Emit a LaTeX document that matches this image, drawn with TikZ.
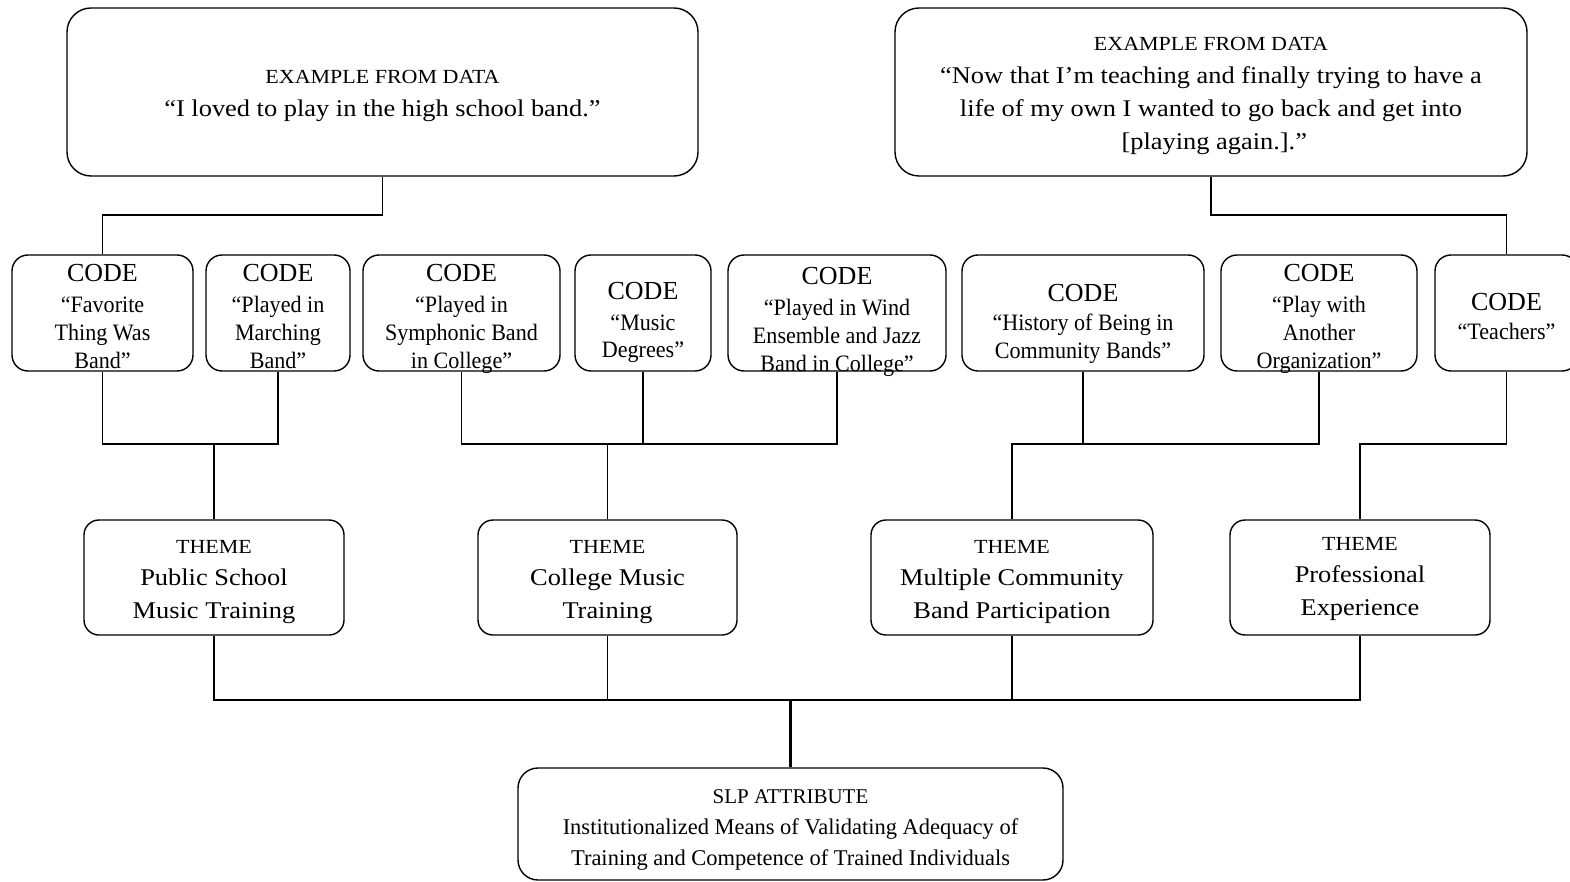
\documentclass[tikz,border=0pt]{standalone}
\usepackage{fontspec}
\setmainfont{Liberation Serif}[FakeStretch=1.1]
\newfontfamily\plainserif{Liberation Serif}
\newfontfamily\tightserif{Liberation Serif}[FakeStretch=0.94]
% invisible struts that pad the top and bottom lines of a box
\newcommand\padtop[1]{\rule{0pt}{#1pt}}
\newcommand\padbot{\rule[-7pt]{0pt}{0pt}}
\newcommand\codehead{{\plainserif\fontsize{26}{28}\selectfont CODE}}
\begin{document}
\begin{tikzpicture}[x=1pt,y=-1pt,line width=1.4pt,
  exbox/.style={draw,rounded corners=24pt,align=center,inner sep=0pt,
    minimum height=168pt,font=\fontsize{24}{33}\selectfont},
  codebox/.style={draw,rounded corners=16pt,align=center,inner xsep=0pt,
    inner ysep=-30pt,minimum height=116pt,
    font=\tightserif\fontsize{23.5}{28}\selectfont},
  themebox/.style={draw,rounded corners=15pt,align=center,inner sep=0pt,
    minimum height=115pt,font=\fontsize{24}{32.5}\selectfont},
  slpbox/.style={draw,rounded corners=20pt,align=center,inner sep=0pt,
    minimum height=112pt,font=\plainserif\fontsize{22.5}{31}\selectfont},
  bus/.style={line width=1.4pt},
  trunk/.style={line width=2.6pt}]
\clip (0,0) rectangle (1570,882);

% data examples
\node[exbox,minimum width=631pt] (ex1) at (382.5,92)
  {\padtop{21}{\fontsize{20}{33}\selectfont EXAMPLE FROM DATA}\\
   “I loved to play in the high school band.”};
\node[exbox,minimum width=632pt] (ex2) at (1211,92)
  {\padtop{21}{\fontsize{20}{33}\selectfont EXAMPLE FROM DATA}\\
   “Now that I’m teaching and finally trying to have a\\
   life of my own I wanted to go back and get into\\{}
   [playing again.].”};

% codes
\node[codebox,minimum width=181pt] (c1) at (102.5,313)
  {\padtop{31.5}\codehead\\[3pt]“Favorite\\Thing Was\\Band”\padbot};
\node[codebox,minimum width=144pt] (c2) at (278,313)
  {\padtop{31.5}\codehead\\[3pt]“Played in\\Marching\\Band”\padbot};
\node[codebox,minimum width=197pt] (c3) at (461.5,313)
  {\padtop{31.5}\codehead\\[3pt]“Played in\\Symphonic Band\\in College”\padbot};
\node[codebox,minimum width=136pt] (c4) at (643,313)
  {\padtop{38}\codehead\\[3pt]“Music\\[-1pt]Degrees”\padbot};
\node[codebox,minimum width=218pt] (c5) at (837,313)
  {\padtop{37}\codehead\\[3pt]“Played in Wind\\Ensemble and Jazz\\Band in College”\padbot};
\node[codebox,minimum width=242pt] (c6) at (1083,313)
  {\padtop{40}\codehead\\[1pt]“History of Being in\\Community Bands”\padbot};
\node[codebox,minimum width=196pt] (c7) at (1319,313)
  {\padtop{31.5}\codehead\\[3pt]“Play with\\Another\\Organization”\padbot};
\node[codebox,minimum width=143pt] (c8) at (1506.5,313)
  {\padtop{31}\codehead\\[1pt]“Teachers”\padbot};

% themes
\node[themebox,minimum width=260pt] (t1) at (214,577.5)
  {\padtop{22}{\fontsize{20}{32.5}\selectfont THEME}\\Public School\\Music Training};
\node[themebox,minimum width=259pt] (t2) at (607.5,577.5)
  {\padtop{22}{\fontsize{20}{32.5}\selectfont THEME}\\College Music\\Training};
\node[themebox,minimum width=282pt] (t3) at (1012,577.5)
  {\padtop{22}{\fontsize{20}{32.5}\selectfont THEME}\\Multiple Community\\Band Participation};
\node[themebox,minimum width=260pt] (t4) at (1360,577.5)
  {\padtop{16}{\fontsize{20}{32.5}\selectfont THEME}\\Professional\\Experience};

% attribute
\node[slpbox,minimum width=545pt] (slp) at (790.5,824)
  {\padtop{26}{\fontsize{21}{31}\selectfont SLP ATTRIBUTE}\\
   Institutionalized Means of Validating Adequacy of\\
   Training and Competence of Trained Individuals};

% bus levels
\coordinate (ytop) at (0,215);
\coordinate (ymid) at (0,444);
\coordinate (ybot) at (0,700);

% example -> codes
\draw[bus] (ex1.south) -- (ex1.south |- ytop) -| (c1.north);
\draw[bus] (ex2.south) -- (ex2.south |- ytop) -| (c8.north);

% codes -> themes
\draw[bus] (c1.south) -- (c1.south |- ymid) -| (c2.south);
\draw[bus] (t1.north) -- (t1.north |- ymid);
\draw[bus] (c3.south) -- (c3.south |- ymid) -| (c5.south);
\draw[bus] (c4.south) -- (c4.south |- ymid);
\draw[bus] (t2.north) -- (t2.north |- ymid);
\draw[bus] (c6.south) -- (c6.south |- ymid);
\draw[bus] (t3.north) -- (t3.north |- ymid) -| (c7.south);
\draw[bus] (c8.south) -- (c8.south |- ymid) -| (t4.north);

% themes -> attribute
\draw[bus] (t1.south) -- (t1.south |- ybot) -| (t4.south);
\draw[bus] (t2.south) -- (t2.south |- ybot);
\draw[bus] (t3.south) -- (t3.south |- ybot);
\draw[trunk] (slp.north) -- (slp.north |- ybot);
\end{tikzpicture}
\end{document}
